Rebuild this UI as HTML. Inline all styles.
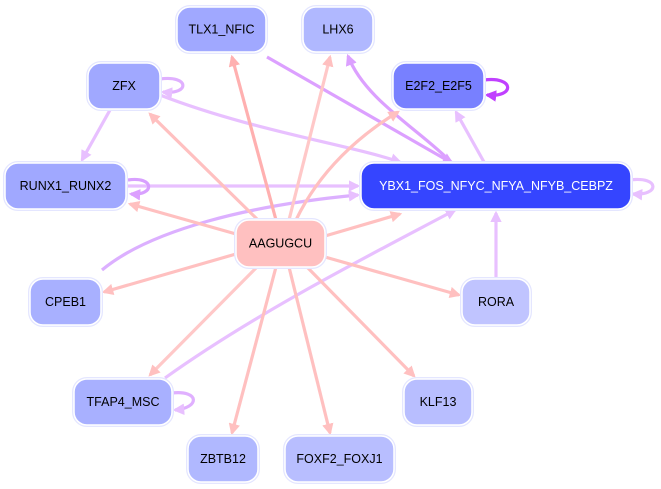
<!DOCTYPE html>
<html><head><meta charset="utf-8"><style>
html,body{margin:0;padding:0;background:#fff;}
svg{display:block;}
text{font-family:"Liberation Sans",sans-serif;font-size:12.5px;text-anchor:middle;dominant-baseline:central;}
</style></head><body>
<svg width="661" height="489" viewBox="0 0 661 489" xmlns="http://www.w3.org/2000/svg">
<defs>
<marker id="ap" viewBox="0 0 10 10" refX="8" refY="5" markerWidth="3.6" markerHeight="3.6" orient="auto"><path d="M0,0L10,5L0,10z" fill="#ffc0c0"/></marker>
<marker id="ap2" viewBox="0 0 10 10" refX="8" refY="5" markerWidth="3.6" markerHeight="3.6" orient="auto"><path d="M0,0L10,5L0,10z" fill="#ffb0b0"/></marker>
<marker id="av" viewBox="0 0 10 10" refX="8" refY="5" markerWidth="3.6" markerHeight="3.6" orient="auto"><path d="M0,0L10,5L0,10z" fill="#e8c0ff"/></marker>
<marker id="av2" viewBox="0 0 10 10" refX="8" refY="5" markerWidth="3.6" markerHeight="3.6" orient="auto"><path d="M0,0L10,5L0,10z" fill="#dca0ff"/></marker>
<marker id="av3" viewBox="0 0 10 10" refX="8" refY="5" markerWidth="3.6" markerHeight="3.6" orient="auto"><path d="M0,0L10,5L0,10z" fill="#c040ff"/></marker>
</defs>
<g fill="none" stroke-width="3.2">
<path d="M267,57 L452,163" stroke="#dca0ff" marker-end="url(#av2)"/>
<path d="M452,163 C420,130 365,100 348,56" stroke="#dca0ff" marker-end="url(#av2)"/>
<path d="M160,95 C250,130 350,145 400,162" stroke="#e8c0ff" marker-end="url(#av)"/>
<path d="M484,162 L456,112" stroke="#e8c0ff" marker-end="url(#av)"/>
<path d="M110,110 L82,160" stroke="#e8c0ff" marker-end="url(#av)"/>
<path d="M128,186 L358,186" stroke="#e8c0ff" marker-end="url(#av)"/>
<path d="M102,270 C150,230 250,205 358,195" stroke="#dcb0ff" marker-end="url(#av)"/>
<path d="M165,378 C260,310 380,250 455,210" stroke="#e8c0ff" marker-end="url(#av)"/>
<path d="M496,278 L496,213" stroke="#e8c0ff" marker-end="url(#av)"/>
<path d="M160,79 C190,75 190,95 163,92" stroke="#e0b0ff" marker-end="url(#av)"/>
<path d="M128,180 C155,176 155,196 131,194" stroke="#d8a0ff" marker-end="url(#av2)"/>
<path d="M484,80 C515,76 515,98 487,95" stroke="#c040ff" marker-end="url(#av3)"/>
<path d="M630,180 C660,176 660,196 633,194" stroke="#e8c0ff" marker-end="url(#av)"/>
<path d="M172,393 C200,390 200,408 175,410" stroke="#e0b0ff" marker-end="url(#av)"/>
<path d="M276,220 L232,57" stroke="#ffb0b0" marker-end="url(#ap2)"/>
<path d="M289,220 L330,57" stroke="#ffc8c8" marker-end="url(#ap)"/>
<path d="M296,220 C320,170 360,135 398,112" stroke="#ffc0c0" marker-end="url(#ap)"/>
<path d="M258,220 L150,114" stroke="#ffc0c0" marker-end="url(#ap)"/>
<path d="M236,234 L130,204" stroke="#ffc0c0" marker-end="url(#ap)"/>
<path d="M325,236 L400,214" stroke="#ffc0c0" marker-end="url(#ap)"/>
<path d="M236,254 L104,292" stroke="#ffc0c0" marker-end="url(#ap)"/>
<path d="M325,257 L459,295" stroke="#ffc0c0" marker-end="url(#ap)"/>
<path d="M257,267 L150,375" stroke="#ffc8c8" marker-end="url(#ap)"/>
<path d="M276,267 L232,433" stroke="#ffc0c0" marker-end="url(#ap)"/>
<path d="M289,267 L330,433" stroke="#ffc0c0" marker-end="url(#ap)"/>
<path d="M307,267 L414,376" stroke="#ffc0c0" marker-end="url(#ap)"/>
</g>
<g stroke="#e4e6ff" stroke-width="4" fill="none">
<rect x="177" y="7" width="89" height="45" rx="13"/>
<rect x="303" y="7" width="70" height="45" rx="13"/>
<rect x="88" y="63" width="72" height="46" rx="13"/>
<rect x="393" y="63" width="91" height="46" rx="13"/>
<rect x="5" y="163" width="121" height="46" rx="13"/>
<rect x="361" y="163" width="270" height="46" rx="13"/>
<rect x="236" y="220" width="89" height="47" rx="13"/>
<rect x="30" y="279" width="71" height="46" rx="13"/>
<rect x="462" y="279" width="68" height="46" rx="13"/>
<rect x="74" y="379" width="98" height="46" rx="13"/>
<rect x="404" y="379" width="68" height="46" rx="13"/>
<rect x="188" y="436" width="70" height="46" rx="13"/>
<rect x="285" y="436" width="109" height="46" rx="13"/>
</g>
<g stroke="#ffffff" stroke-width="1.5">
<rect x="177" y="7" width="89" height="45" rx="13" fill="#a0a8ff"/>
<rect x="303" y="7" width="70" height="45" rx="13" fill="#b0b8ff"/>
<rect x="88" y="63" width="72" height="46" rx="13" fill="#a0a8ff"/>
<rect x="393" y="63" width="91" height="46" rx="13" fill="#7880ff"/>
<rect x="5" y="163" width="121" height="46" rx="13" fill="#a0a8ff"/>
<rect x="361" y="163" width="270" height="46" rx="13" fill="#3545ff"/>
<rect x="236" y="220" width="89" height="47" rx="13" fill="#ffc0c0"/>
<rect x="30" y="279" width="71" height="46" rx="13" fill="#a8b0ff"/>
<rect x="462" y="279" width="68" height="46" rx="13" fill="#c0c4ff"/>
<rect x="74" y="379" width="98" height="46" rx="13" fill="#a8b0ff"/>
<rect x="404" y="379" width="68" height="46" rx="13" fill="#b8beff"/>
<rect x="188" y="436" width="70" height="46" rx="13" fill="#b0b8ff"/>
<rect x="285" y="436" width="109" height="46" rx="13" fill="#b8beff"/>
</g>
<g fill="#000">
<text x="221.5" y="29.5">TLX1_NFIC</text>
<text x="338" y="29.5">LHX6</text>
<text x="124" y="86">ZFX</text>
<text x="438.5" y="86">E2F2_E2F5</text>
<text x="65.5" y="186">RUNX1_RUNX2</text>
<text x="496" y="186" fill="#fff">YBX1_FOS_NFYC_NFYA_NFYB_CEBPZ</text>
<text x="280.5" y="243.5">AAGUGCU</text>
<text x="65.5" y="302">CPEB1</text>
<text x="496" y="302">RORA</text>
<text x="123" y="402">TFAP4_MSC</text>
<text x="438" y="402">KLF13</text>
<text x="223" y="459">ZBTB12</text>
<text x="339.5" y="459">FOXF2_FOXJ1</text>
</g>
</svg>
</body></html>
